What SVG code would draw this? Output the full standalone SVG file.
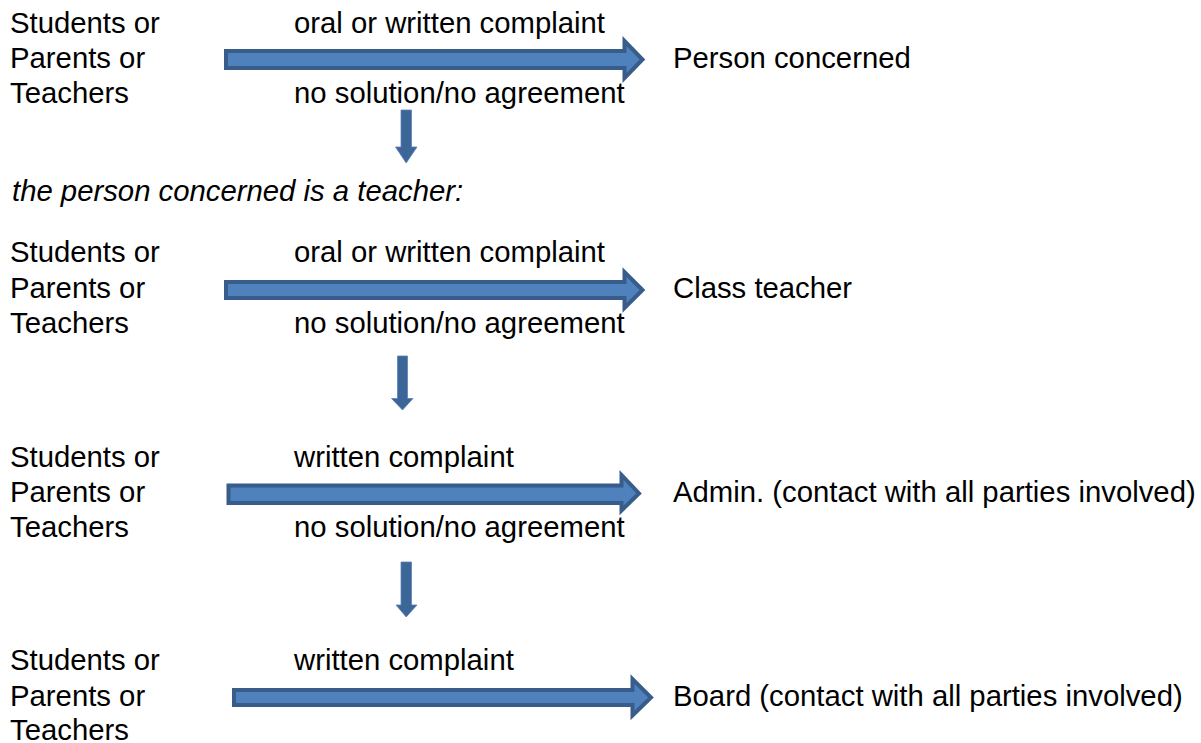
<svg xmlns="http://www.w3.org/2000/svg" width="1201" height="743" viewBox="0 0 1201 743">
<style>
text{font-family:"Liberation Sans",Arial,sans-serif;font-size:29.3px;fill:#000}
.it{font-style:italic}
.ha{fill:#4F81BD;stroke:#385D8A;stroke-width:4;stroke-linejoin:miter}
.va{fill:#3D6698;stroke:#5B82B8;stroke-width:0.8}
</style>
<rect width="1201" height="743" fill="#fff"/>
<g id="connectors">
<path class="ha" d="M226,51 H624.5 V41 L642.5,59.5 L624.5,78 V68 H226 Z"/>
<path class="va" d="M401,110 H411.5 V147 H417 L406.2,163 L395.5,147 H401 Z"/>
<path class="ha" d="M226,282 H624.5 V272 L642.5,290 L624.5,308 V298 H226 Z"/>
<path class="va" d="M397.5,356 H407.5 V398.5 H413 L402.5,410 L391.5,398.5 H397.5 Z"/>
<path class="ha" d="M228.5,485.5 H621.5 V475 L639,493.5 L621.5,510.5 V503 H228.5 Z"/>
<path class="va" d="M401,562 H411.5 V605 H417 L406.2,617 L396,605 H401 Z"/>
<path class="ha" d="M234,690 H632.5 V679 L651,697.5 L632.5,715.5 V705 H234 Z"/>
</g>
<g id="row1">
<text x="10" y="32.5">Students or</text>
<text x="10" y="68">Parents or</text>
<text x="10" y="103">Teachers</text>
<text x="294" y="32.5">oral or written complaint</text>
<text x="294" y="103">no solution/no agreement</text>
<text x="673" y="68">Person concerned</text>
</g>
<g id="condition">
<text class="it" x="12" y="201">the person concerned is a teacher:</text>
</g>
<g id="row2">
<text x="10" y="262">Students or</text>
<text x="10" y="298">Parents or</text>
<text x="10" y="333">Teachers</text>
<text x="294" y="262">oral or written complaint</text>
<text x="294" y="333">no solution/no agreement</text>
<text x="673" y="298">Class teacher</text>
</g>
<g id="row3">
<text x="10" y="467">Students or</text>
<text x="10" y="502">Parents or</text>
<text x="10" y="537">Teachers</text>
<text x="294" y="467">written complaint</text>
<text x="294" y="537">no solution/no agreement</text>
<text x="673" y="502">Admin. (contact with all parties involved)</text>
</g>
<g id="row4">
<text x="10" y="670">Students or</text>
<text x="10" y="706">Parents or</text>
<text x="10" y="740">Teachers</text>
<text x="294" y="670">written complaint</text>
<text x="673" y="706">Board (contact with all parties involved)</text>
</g>
</svg>
